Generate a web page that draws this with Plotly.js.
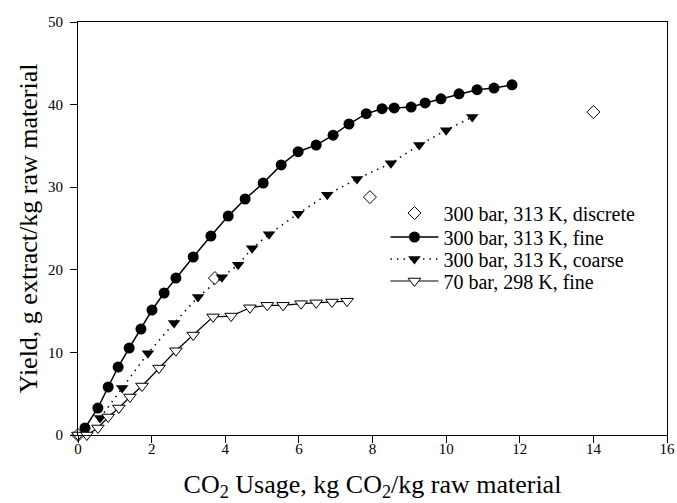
<!DOCTYPE html>
<html>
<head>
<meta charset="utf-8">
<script src="https://cdn.plot.ly/plotly-3.0.1.min.js"></script>
<style>html,body{margin:0;padding:0;background:#fff;}#chart{width:677px;height:503px;}</style>
</head>
<body>
<div id="chart"></div>
<script>
// 300 bar, 313 K, discrete
const discreteX = [0, 3.72, 7.93, 14.0];
const discreteY = [0, 19.0, 28.8, 39.1];
// 300 bar, 313 K, fine
const fineX = [0.19, 0.54, 0.82, 1.09, 1.39, 1.71, 2.01, 2.34, 2.66, 3.13, 3.61, 4.08, 4.54, 5.03, 5.52, 5.98, 6.47, 6.93, 7.36, 7.83, 8.26, 8.59, 9.05, 9.43, 9.86, 10.35, 10.84, 11.3, 11.79];
const fineY = [0.85, 3.27, 5.81, 8.23, 10.53, 12.83, 15.13, 17.19, 19.0, 21.55, 24.09, 26.5, 28.57, 30.5, 32.7, 34.3, 35.1, 36.3, 37.65, 38.9, 39.5, 39.6, 39.7, 40.2, 40.7, 41.3, 41.8, 42.0, 42.4];
// 300 bar, 313 K, coarse
const coarseX = [0.6, 1.2, 1.9, 2.61, 3.26, 3.91, 4.35, 4.73, 5.19, 5.98, 6.77, 7.58, 8.5, 9.27, 10.0, 10.71];
const coarseY = [2.06, 5.7, 9.9, 13.56, 16.7, 19.1, 20.6, 22.6, 24.3, 26.8, 29.1, 31.0, 32.9, 35.1, 36.9, 38.5];
// 70 bar, 298 K, fine
const lowX = [0, 0.24, 0.54, 0.82, 1.11, 1.41, 1.74, 2.2, 2.66, 3.13, 3.67, 4.16, 4.67, 5.14, 5.57, 6.06, 6.47, 6.9, 7.31];
const lowY = [0, 0, 0.85, 2.18, 3.27, 4.6, 5.93, 8.1, 10.2, 12.1, 14.3, 14.4, 15.4, 15.7, 15.7, 15.9, 16.0, 16.1, 16.2];

const names = ["300 bar, 313 K, discrete", "300 bar, 313 K, fine", "300 bar, 313 K, coarse", "70 bar, 298 K, fine"];
const xTicks = [0, 2, 4, 6, 8, 10, 12, 14, 16];
const yTicks = [0, 10, 20, 30, 40, 50];

const FONT = "Liberation Serif";

const traces = [
  {x: discreteX, y: discreteY, name: names[0], legend: "legend", mode: "markers", cliponaxis: false,
   marker: {symbol: "diamond", size: 10, color: "#fff", line: {color: "#000", width: 1}}},
  {x: fineX, y: fineY, name: names[1], legend: "legend2", mode: "lines+markers", cliponaxis: false,
   line: {color: "#000", width: 1.5},
   marker: {symbol: "circle", size: 11, color: "#000"}},
  {x: coarseX, y: coarseY, name: names[2], legend: "legend3", mode: "lines+markers", cliponaxis: false,
   line: {color: "#000", width: 1.5, dash: "1.5px,5px"},
   marker: {symbol: "triangle-down", size: 11, color: "#000"}},
  {x: lowX, y: lowY, name: names[3], legend: "legend4", mode: "lines+markers", cliponaxis: false,
   line: {color: "#000", width: 1.2},
   marker: {symbol: "triangle-down", size: 11, color: "#fff", line: {color: "#000", width: 1}}}
];

function leg(yPaper) {
  return {x: 0.522, y: yPaper, xanchor: "left", yanchor: "middle", itemwidth: 48,
          font: {family: FONT, size: 20, color: "#000"}, bgcolor: "rgba(0,0,0,0)", borderwidth: 0};
}

const layout = {
  width: 677, height: 503,
  margin: {l: 78, r: 10, t: 22, b: 68},
  paper_bgcolor: "#fff", plot_bgcolor: "#fff",
  font: {family: FONT, color: "#000", size: 15},
  showlegend: true,
  legend: leg(0.5375), legend2: leg(0.4794), legend3: leg(0.4262), legend4: leg(0.3729),
  xaxis: {range: [0, 16], tickvals: xTicks, ticktext: xTicks.map(String),
          showgrid: false, zeroline: false, showline: true, linecolor: "#000", linewidth: 1,
          mirror: true, ticks: "outside", ticklen: 7, tickcolor: "#000", ticklabelstandoff: -7,
          tickfont: {family: FONT, size: 15},
          title: {text: "CO<sub>2</sub> Usage, kg CO<sub>2</sub>/kg raw material", font: {family: FONT, size: 26}, standoff: 18}},
  yaxis: {range: [0, 50], tickvals: yTicks, ticktext: yTicks.map(String),
          showgrid: false, zeroline: false, showline: true, linecolor: "#000", linewidth: 1,
          mirror: true, ticks: "outside", ticklen: 7, tickcolor: "#000", ticklabelstandoff: 4,
          tickfont: {family: FONT, size: 15},
          title: {text: "Yield, g extract/kg raw material", font: {family: FONT, size: 26}, standoff: 2}}
};

Plotly.newPlot("chart", traces, layout, {displayModeBar: false, staticPlot: true});
</script>
</body>
</html>
